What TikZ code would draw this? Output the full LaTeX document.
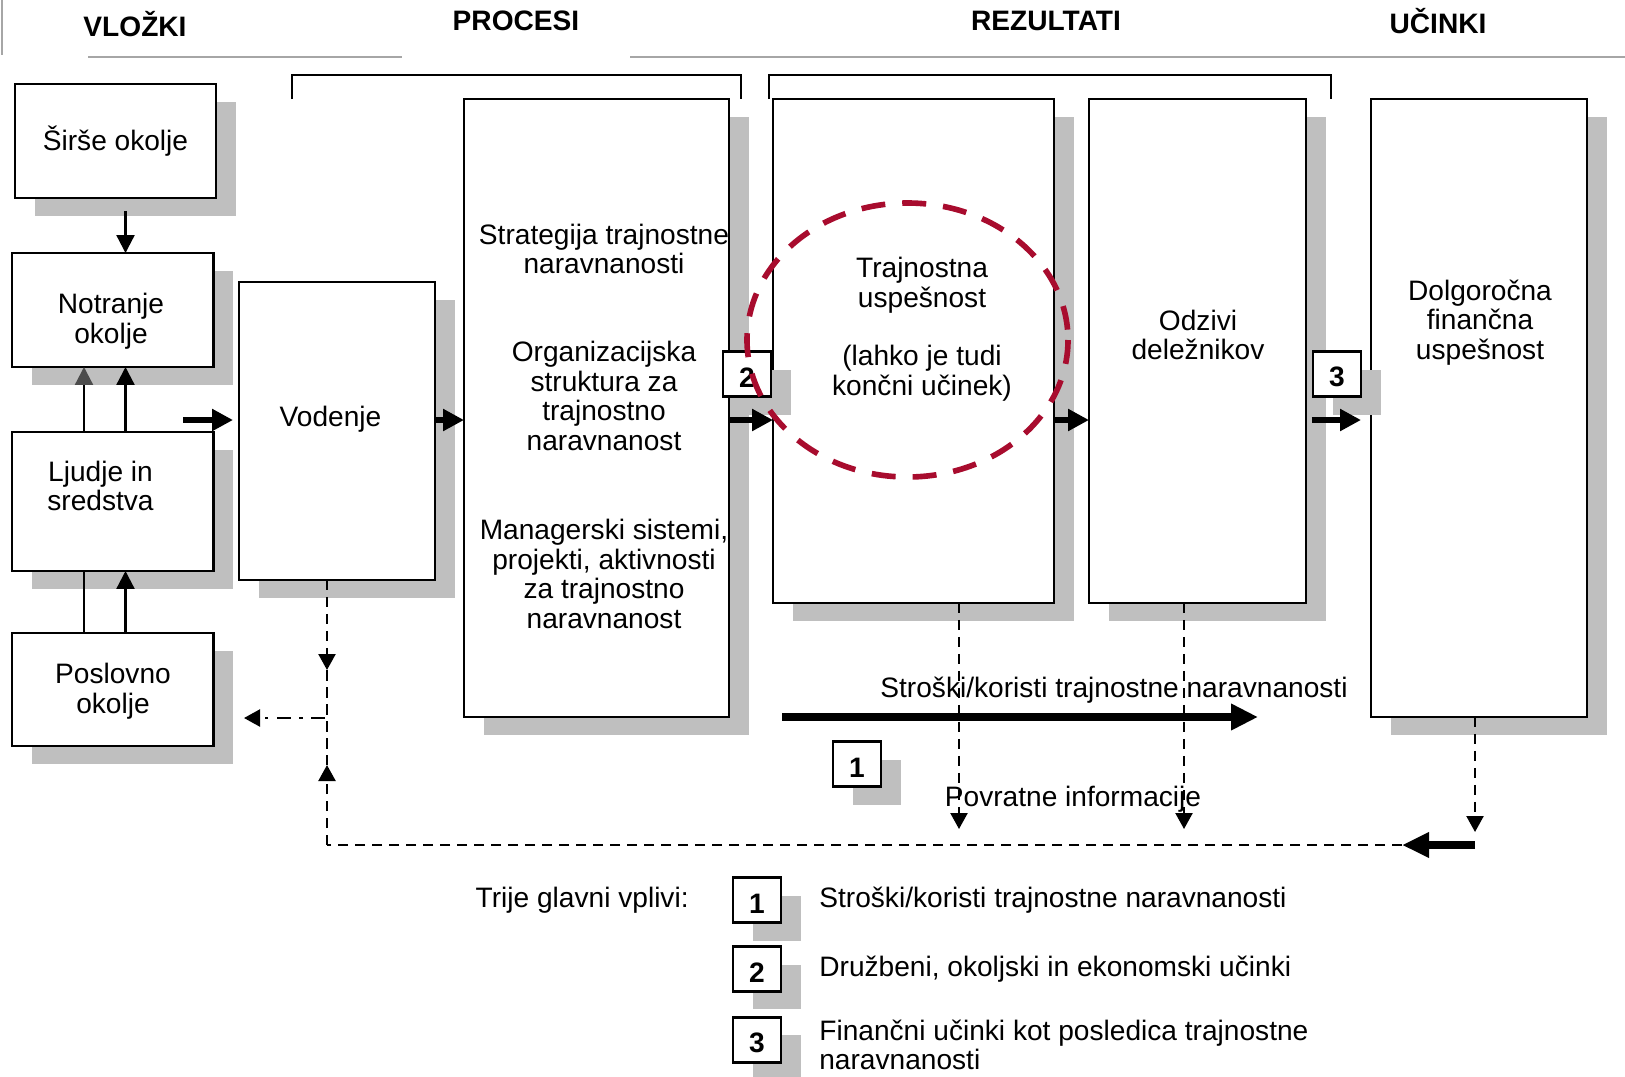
\documentclass[tikz,border=0pt]{standalone}
\usepackage{fontspec}
\setmainfont{Liberation Sans}
\usetikzlibrary{positioning,arrows.meta,shadows}

\definecolor{krog}{RGB}{168,12,46}

\tikzset{
  blok/.style={draw, line width=1.3pt, fill=white, inner sep=0pt, outer sep=0pt,
    drop shadow={shadow xshift=0.4cm, shadow yshift=-0.36cm, fill=black!25, opacity=1}},
  besedilo/.style={align=center, inner sep=0pt, font=\fontsize{16}{16.8}\selectfont},
  naslov/.style={inner sep=0pt, font=\fontsize{16}{17}\selectfont\bfseries},
  stevilka/.style={blok, minimum width=0.96cm, minimum height=0.9cm, text height=0.52cm, font=\fontsize{16}{17}\selectfont\bfseries},
  tanka/.style={line width=1.3pt, -{Triangle[length=0.36cm, width=0.36cm]}},
  debela/.style={line width=3.6pt, -{Triangle[length=0.42cm, width=0.42cm]}},
  povratna/.style={line width=1.3pt, dash pattern=on 0.21cm off 0.13cm},
  konica/.style={-{Triangle[length=0.32cm, width=0.34cm]}}
}

\begin{document}
\begin{tikzpicture}[x=0.02cm, y=-0.02cm]
\useasboundingbox (0,0) rectangle (1625,1076);

% glava
\draw[black!35, line width=1pt] (2,0) -- (2,55);
\draw[black!35, line width=1.2pt] (88,57) -- (402,57);
\draw[black!35, line width=1.2pt] (630,57) -- (1625,57);
\node[naslov] (vlozki) at (135,24) {VLOŽKI};
\node[naslov] (procesi) at (516,21) {PROCESI};
\node[naslov] (rezultati) at (1046,21) {REZULTATI};
\node[naslov] (ucinki) at (1438,21) {UČINKI};
\draw[line width=1.3pt] (292,99) -- (292,75) -- (741,75) -- (741,99);
\draw[line width=1.3pt] (769,99) -- (769,75) -- (1331,75) -- (1331,99);

% vlozki
\node[blok, besedilo, minimum width=4.02cm, minimum height=2.28cm] (sirse) at (115.5,141) {Širše okolje};
\node[blok, minimum width=4.03cm, minimum height=2.28cm] (notr) at (112.75,310) {};
\node[besedilo] (notr-t) at (111,321) {Notranje\\okolje};
\node[blok, minimum width=4.03cm, minimum height=2.78cm] (ljud) at (112.75,501.5) {};
\node[besedilo] (ljud-t) at (100.5,486) {Ljudje in\\sredstva};
\node[blok, minimum width=4.03cm, minimum height=2.26cm] (posl) at (112.75,689.5) {};
\node[besedilo] (posl-t) at (113,691) {Poslovno\\okolje};

% procesi
\node[blok, minimum width=3.92cm, minimum height=5.96cm] (vod) at (337,431) {};
\node[besedilo] (vod-t) at (330.5,419) {Vodenje};
\node[blok, minimum width=5.3cm, minimum height=12.36cm] (proc) at (596.5,408) {};
\node[besedilo] (strat) at (604,249) {Strategija trajnostne\\naravnanosti};
\node[besedilo] (org) at (604,396) {Organizacijska\\struktura za\\trajnostno\\naravnanost};
\node[besedilo] (mgr) at (604,574) {Managerski sistemi,\\projekti, aktivnosti\\za trajnostno\\naravnanost};

% rezultati in ucinki
\node[blok, minimum width=5.62cm, minimum height=10.08cm] (traj) at (913.5,351) {};
\node[besedilo] (traj-t) at (922,285) {Trajnostna\\uspešnost};
\node[besedilo] (traj-t2) at (922,373) {(lahko je tudi\\končni učinek)};
\node[blok, minimum width=4.34cm, minimum height=10.08cm] (odz) at (1197.5,351) {};
\node[besedilo] (odz-t) at (1198,335) {Odzivi\\deležnikov};
\node[blok, minimum width=4.32cm, minimum height=12.36cm] (dolg) at (1479,408) {};
\node[besedilo] (dolg-t) at (1480,322.5) {Dolgoročna\\finančna\\uspešnost};

% stevilke
\node[stevilka] (st2) at (747,374) {2};
\node[stevilka] (st3) at (1337,374) {3};
\node[stevilka] (st1) at (857,764) {1};

% glavni tok
\coordinate (vhod) at (183,420);
\draw[debela, shorten >=0.12cm] (vhod) -- (vod.west |- vhod);
\draw[debela] (vod.east |- vhod) -- (proc.west |- vhod);
\draw[debela] (proc.east |- vhod) -- (traj.west |- vhod);
\draw[debela] (traj.east |- vhod) -- (odz.west |- vhod);
\draw[debela, shorten <=0.12cm, shorten >=0.2cm] (odz.east |- vhod) -- (dolg.west |- vhod);

% vlozki med seboj
\coordinate (xa) at (84,0);
\coordinate (xb) at (125.5,0);
\draw[tanka, shorten <=0.26cm] (sirse.south -| xb) -- (notr.north -| xb);
\draw[line width=1.3pt, -{Triangle[length=0.36cm, width=0.36cm, color=black!70]}] (ljud.north -| xa) -- (notr.south -| xa);
\draw[tanka] (ljud.north -| xb) -- (notr.south -| xb);
\draw[line width=1.3pt] (posl.north -| xa) -- (ljud.south -| xa);
\draw[tanka] (posl.north -| xb) -- (ljud.south -| xb);

% stroski / koristi
\coordinate (sk-zac) at (782,717);
\coordinate (sk-kon) at (1258,717);
\node[besedilo] (sk-t) at (1114,690) {Stroški/koristi trajnostne naravnanosti};
\draw[line width=4.6pt, -{Triangle[length=0.54cm, width=0.5cm]}] (sk-zac) -- (sk-kon);
\node[besedilo] (pov-t) at (1073,799) {Povratne informacije};

% povratne informacije
\coordinate (t1) at (959,829);
\coordinate (o1) at (1184,829);
\coordinate (d1) at (1475,832);
\coordinate (fb1) at (1475,845);
\coordinate (fb2) at (1402,845);
\coordinate (fb3) at (327,845);
\coordinate (v1) at (327,670);
\coordinate (v2) at (327,765);
\coordinate (vp) at (325,718);
\coordinate (pt) at (244,718);
\draw[povratna, konica] (traj.south -| t1) -- (t1);
\draw[povratna, konica] (odz.south -| o1) -- (o1);
\draw[povratna, konica] (dolg.south -| d1) -- (d1);
\draw[line width=4.6pt, -{Triangle[length=0.54cm, width=0.48cm]}] (fb1) -- (fb2);
\draw[povratna] (fb2) -- (fb3);
\draw[povratna, konica] (vod.south -| v1) -- (v1);
\draw[povratna] (v1) -- (v2);
\draw[povratna, konica] (fb3) -- (v2);
\draw[line width=1.3pt, dash pattern=on 0.28cm off 0.17cm on 0.07cm off 0.17cm, konica] (vp) -- (pt);

% poudarek
\draw[krog, line width=3.2pt, dash pattern=on 0.48cm off 0.34cm] (907.5,340) ellipse [x radius=160.5, y radius=137];

% legenda
\node[stevilka] (leg1) at (757,900) {1};
\node[stevilka, below=0.48cm of leg1] (leg2) {2};
\node[stevilka, below=0.52cm of leg2] (leg3) {3};
\node[besedilo, left=0.88cm of leg1] (trije) {Trije glavni vplivi:};
\node[besedilo, right=0.76cm of leg1] (leg1-t) {Stroški/koristi trajnostne naravnanosti};
\node[besedilo, right=0.76cm of leg2] (leg2-t) {Družbeni, okoljski in ekonomski učinki};
\node[besedilo, align=left, right=0.76cm of leg3, yshift=-0.1cm] (leg3-t) {Finančni učinki kot posledica trajnostne\\naravnanosti};
\end{tikzpicture}
\end{document}
